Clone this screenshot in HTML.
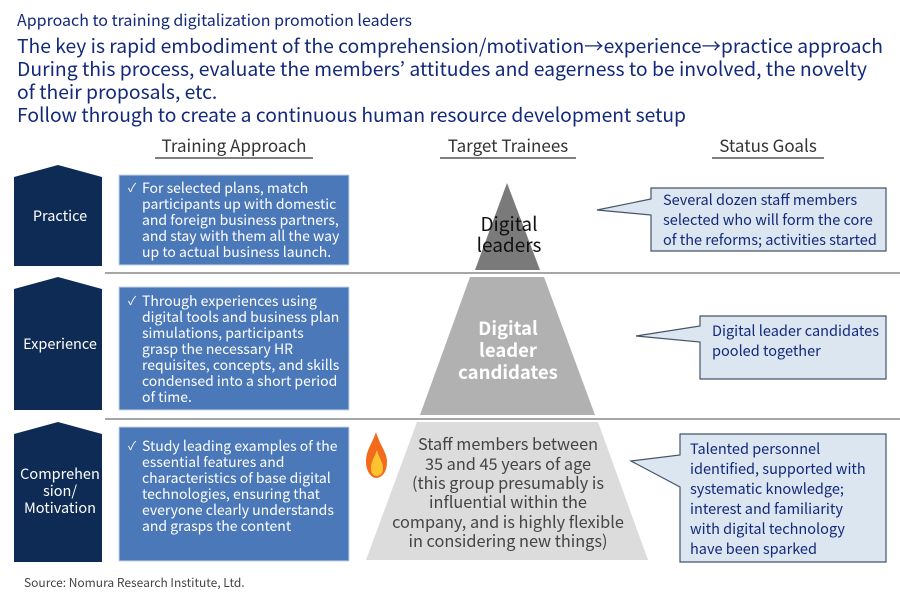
<!DOCTYPE html>
<html><head><meta charset="utf-8"><style>
html,body{margin:0;padding:0;background:#fff;}
svg{display:block;font-family:"Noto Sans CJK JP","Liberation Sans",sans-serif;}
</style></head><body>
<svg width="900" height="600" viewBox="0 0 900 600" xmlns="http://www.w3.org/2000/svg">
<g fill="#13297a">
<text x="17" y="26" font-size="16">Approach to training digitalization promotion leaders</text>
<text x="17" y="53" font-size="19.3" textLength="866" lengthAdjust="spacingAndGlyphs">The key is rapid embodiment of the comprehension/motivation→experience→practice approach</text>
<text x="17" y="76" font-size="19.3" textLength="850" lengthAdjust="spacingAndGlyphs">During this process, evaluate the members’ attitudes and eagerness to be involved, the novelty</text>
<text x="17" y="99" font-size="19.3">of their proposals, etc.</text>
<text x="17" y="122" font-size="19.3" textLength="669" lengthAdjust="spacingAndGlyphs">Follow through to create a continuous human resource development setup</text>
</g>
<g fill="#333" font-size="17" text-anchor="middle">
<text x="234" y="152">Training Approach</text>
<text x="508" y="152">Target Trainees</text>
<text x="768" y="152">Status Goals</text>
</g>
<g stroke="#333" stroke-width="1.2">
<line x1="155" y1="158" x2="313" y2="158"/>
<line x1="440" y1="158" x2="576" y2="158"/>
<line x1="712" y1="158" x2="824" y2="158"/>
</g>
<g stroke="#888" stroke-width="1.5">
<line x1="105" y1="273" x2="900" y2="273"/>
<line x1="105" y1="419" x2="900" y2="419"/>
</g>
<g fill="#0e2b55">
<polygon points="14,177 58,165 102,177 102,266 14,266"/>
<polygon points="14,289 58,277 102,289 102,410 14,410"/>
<polygon points="14,434 58,422 102,434 102,562 14,562"/>
</g>
<g fill="#fff" font-size="14.5" text-anchor="middle">
<text x="60" y="221">Practice</text>
<text x="60" y="349">Experience</text>
<text x="60" y="479">Comprehen</text>
<text x="60" y="496">sion/</text>
<text x="60" y="513">Motivation</text>
</g>
<g fill="#4a78b8" stroke="#c8d4e8" stroke-width="1">
<rect x="119" y="175" width="230" height="90"/>
<rect x="119" y="287" width="230" height="123"/>
<rect x="119" y="427" width="230" height="134"/>
</g>
<g fill="#fff" font-size="14">
<text x="128" y="192" font-size="12">✓</text>
<text x="142" y="193">For selected plans, match</text>
<text x="142" y="209">participants up with domestic</text>
<text x="142" y="225">and foreign business partners,</text>
<text x="142" y="241">and stay with them all the way</text>
<text x="142" y="257">up to actual business launch.</text>
<text x="128" y="305" font-size="12">✓</text>
<text x="142" y="306">Through experiences using</text>
<text x="142" y="322">digital tools and business plan</text>
<text x="142" y="338">simulations, participants</text>
<text x="142" y="354">grasp the necessary HR</text>
<text x="142" y="370">requisites, concepts, and skills</text>
<text x="142" y="386">condensed into a short period</text>
<text x="142" y="402">of time.</text>
<text x="128" y="450" font-size="12">✓</text>
<text x="142" y="451">Study leading examples of the</text>
<text x="142" y="467">essential features and</text>
<text x="142" y="483">characteristics of base digital</text>
<text x="142" y="499">technologies, ensuring that</text>
<text x="142" y="515">everyone clearly understands</text>
<text x="142" y="531">and grasps the content</text>
</g>
<polygon points="507,183 540,270 475,270" fill="#7a7a7a"/>
<polygon points="470,277 544,277 595,415 420,415" fill="#b1b1b1"/>
<polygon points="417,422 598,422 648,560 366,560" fill="#dcdcdc"/>
<g text-anchor="middle">
<text x="509" y="231" font-size="19" fill="#111">Digital</text>
<text x="509" y="252" font-size="19" fill="#111">leaders</text>
<g fill="#fff" font-size="18.5" font-weight="bold">
<text x="508" y="335">Digital</text>
<text x="508" y="357">leader</text>
<text x="508" y="379">candidates</text>
</g>
<g fill="#444" font-size="16.3">
<text x="508" y="450">Staff members between</text>
<text x="508" y="470">35 and 45 years of age</text>
<text x="508" y="489">(this group presumably is</text>
<text x="508" y="508">influential within the</text>
<text x="508" y="528">company, and is highly flexible</text>
<text x="508" y="547">in considering new things)</text>
</g>
</g>
<path d="M376,432 C372,444 366,450 366,462 C366,472 372,478 376,478 C382,478 387,472 387,462 C387,452 381,448 376,432 Z" fill="#f26b1d"/>
<path d="M377,450 C374,458 371,462 371,468 C371,474 374,476 377,476 C381,476 383,473 383,468 C383,462 379,458 377,450 Z" fill="#ffc330"/>
<g fill="#dce6f1" stroke="#44546a" stroke-width="1.2">
<path d="M651,188 H886 V251 H651 V215 L597,210 L651,199 Z"/>
<path d="M700,316 H886 V379 H700 V342 L636,336 L700,326 Z"/>
<path d="M680,434 H886 V562 H680 V487 L631,461 L680,455 Z"/>
</g>
<g fill="#13297a" font-size="14.5">
<text x="663" y="205">Several dozen staff members</text>
<text x="663" y="225">selected who will form the core</text>
<text x="663" y="245">of the reforms; activities started</text>
<text x="712" y="336">Digital leader candidates</text>
<text x="712" y="356">pooled together</text>
<text x="690" y="454">Talented personnel</text>
<text x="690" y="474">identified, supported with</text>
<text x="690" y="494">systematic knowledge;</text>
<text x="690" y="514">interest and familiarity</text>
<text x="690" y="534">with digital technology</text>
<text x="690" y="554">have been sparked</text>
</g>
<text x="24" y="587" font-size="12" fill="#444">Source: Nomura Research Institute, Ltd.</text>
</svg>
</body></html>
